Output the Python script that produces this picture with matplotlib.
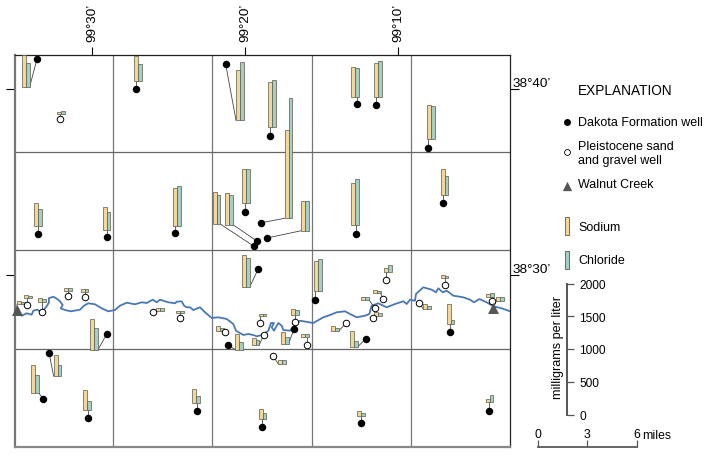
import matplotlib
matplotlib.use('Agg')
import matplotlib.pyplot as plt
from matplotlib.patches import Rectangle

plt.rcParams['font.family'] = ['Liberation Sans', 'DejaVu Sans']

# all map positions are digitised map grid units, ticks give the lat/long
grid_x = [113, 212, 312, 411]
grid_y = [153, 251, 350]
lon_ticks = [92, 245, 398]
lon_labels = ['99°30’', '99°20’', '99°10’']
lat_ticks = [90, 276]
lat_labels = ['38°40’', '38°30’']

# Dakota Formation wells
dak_x = [37, 136, 225.7, 38.3, 107, 175.3, 254, 257.3, 244.7, 270.3, 261.3, 267, 356.7, 376.3, 428, 443,
         355.7, 106.7, 49, 43.3, 87.7, 197, 228.3, 262.3, 361.3, 489, 314.7, 258.3, 365.7, 450, 294]
dak_y = [60, 90, 65.3, 235.3, 237.7, 234.3, 247.3, 242.3, 212.7, 136.7, 223.7, 239, 104.7, 106, 149, 203.7,
         235.3, 335, 353.7, 400, 418.7, 412, 346, 428.3, 424, 412, 301.3, 269.7, 339.7, 333, 330]
dak_bar_x = [22, 134, 236, 34.3, 102.7, 173.3, 212.7, 225.3, 242.3, 268.3, 284.7, 301.3, 351.3, 374.3, 427, 440.7,
             351.3, 90.3, 53.7, 31, 83.3, 192.3, 235.3, 258.7, 357.3, 485.7, 314.3, 242, 350.3, 446.7, 281]
dak_bar_y = [88, 81.7, 121.3, 226.7, 230.7, 226.7, 225, 225.7, 203.7, 127.7, 219.3, 231.7, 98.3, 98.3, 140.3, 196.3,
             226.3, 351, 377.3, 393.7, 410.7, 403.7, 350.7, 420.3, 416.7, 403.3, 292.3, 288.3, 347.7, 324.7, 344.7]
dak_na = [488, 372, 770, 350, 346, 575, 493, 489, 510, 678, 1344, 449, 467, 524, 524, 402,
          650, 469, 321, 427, 296, 205, 240, 153, 72, 46, 467, 489, 235, 296, 174]
dak_cl = [366, 250, 885, 260, 270, 600, 438, 449, 510, 708, 1832, 449, 447, 554, 508, 290,
          707, 340, 168, 266, 128, 98, 113, 96, 41, 116, 493, 443, 82, 52, 98]

# Pleistocene sand and gravel wells
ple_x = [60, 27.3, 42.3, 68, 84.7, 153, 180, 225.3, 386.3, 383.3, 374.7, 373.3, 346, 295.3, 306.7, 260, 263.7,
         273, 419.3, 444.7, 492]
ple_y = [120.3, 306.3, 313, 297, 298, 313.3, 319.3, 333, 281.3, 300, 309, 319.3, 324.3, 323, 346, 324, 336,
         356.7, 303.7, 286.3, 302.3]
ple_bar_x = [57, 24, 38, 64, 80.7, 156, 176.3, 216, 384.3, 373, 361.3, 374, 331.3, 291.3, 301.3, 258.7, 251.7,
             278.3, 423.3, 440.7, 486.3]
ple_bar_y = [115.3, 298.7, 302.7, 291.7, 293, 312, 314.3, 331.7, 272.7, 294.3, 300.7, 316.7, 331.7, 315.7, 337.7,
             316.7, 345.7, 365, 310.3, 279.3, 297.7]
ple_na = [40, 46, 52, 37, 41, 50, 40, 67, 52, 46, 46, 52, 67, 87, 37, 26, 98, 56, 81, 46, 41]
ple_cl = [55, 26, 46, 37, 41, 41, 30, 46, 98, 30, 37, 41, 46, 67, 46, 20, 67, 56, 46, 41, 52]

# Walnut Creek sites
crk_x = [16.7, 493.3]
crk_y = [311, 309]
crk_bar_x = [17, 496.3]
crk_bar_y = [305.3, 301.7]
crk_na = [55, 61]
crk_cl = [40, 61]

river_x = [15, 16.7, 21.7, 26.7, 31.7, 33.3, 37.3, 41.7, 46.7, 49, 48.7, 53.3, 57.3, 60, 62.7, 60.7, 65, 70.7, 80, 84,
           88.3, 95, 101.7, 108.3, 115, 120, 126.7, 135, 141.7, 146.7, 152.7, 156.7, 160, 168.3, 175, 176.7, 181.7,
           184, 186.7, 190, 193.3, 200, 205, 211.7, 218.3, 226.7, 233.3, 236, 243.3, 248.3, 253.3, 256.7, 263.3,
           268.3, 271, 274, 271.7, 274, 278.3, 281.7, 283.3, 290, 295, 300, 313.3, 323.3, 330, 336.7, 345, 350,
           356.7, 365, 369.3, 371.7, 378.3, 386.7, 395, 403.3, 406.7, 410, 415, 416, 423.3, 431.7, 436, 438.3,
           442.7, 446.7, 453.3, 463.3, 470, 474, 479.3, 486.7, 493.3, 501.7, 510]
river_y = [311, 313.3, 316.7, 314.3, 315.7, 311.7, 310.7, 313.3, 307.3, 303.3, 299.3, 297.7, 300, 302.3, 306, 309.3,
           311, 312.3, 310.7, 306.7, 304.3, 305.3, 309.3, 312.3, 311, 306.7, 303.7, 305.3, 303.3, 304, 300.7, 303.3,
           300.7, 303.3, 304.3, 302.7, 302.3, 306.7, 308.3, 308.3, 311, 308.3, 313.3, 319, 318.3, 320, 325, 331.7,
           336, 335, 336, 337.3, 335.7, 331.7, 324, 324, 328.3, 331.7, 324, 326.7, 331, 331.7, 326, 321.7, 324,
           318.3, 316, 313.3, 312.3, 315, 318.3, 316.7, 315, 306.7, 304.3, 308.3, 305, 302.3, 305, 300.7, 301.7,
           295, 288.3, 290.7, 293.3, 289.3, 293.3, 291.7, 296.7, 298.3, 300.7, 303.3, 300, 303.3, 307.3, 309.3, 312.3]

conc_ticks = [0, 500, 1000, 1500, 2000]
mile_ticks = [0, 3, 6]

W, H = 708, 456
NA_COLOR = '#f3d699'
CL_COLOR = '#a3cfc6'
EDGE = '#5a5a48'
BAR_W = 3.8
CONC_SCALE = 131 / 2000  # map units per mg/L, same as the scale bar


def px_axes(fig, left, top, right, bottom):
    return fig.add_axes([left / W, 1 - bottom / H, (right - left) / W, (bottom - top) / H])


def draw_wells(ax, xs, ys, bar_xs, bar_ys, nas, cls):
    for x, y, bx, by, na, cl in zip(xs, ys, bar_xs, bar_ys, nas, cls):
        # leader goes to nearest spot along the bar base
        lx = min(max(x, bx), bx + 2 * BAR_W)
        ax.plot([x, lx], [y, by], color='#444444', lw=0.6, zorder=2)
        ax.add_patch(Rectangle((bx, by), BAR_W, -na * CONC_SCALE, fc=NA_COLOR, ec=EDGE, lw=0.5, zorder=3))
        ax.add_patch(Rectangle((bx + BAR_W, by), BAR_W, -cl * CONC_SCALE, fc=CL_COLOR, ec=EDGE, lw=0.5, zorder=3))


fig = plt.figure(figsize=(W / 100, H / 100), dpi=100)

ax = px_axes(fig, 15, 56, 510, 448)
ax.set_xlim(15, 510)
ax.set_ylim(448, 56)
for g in grid_x:
    ax.axvline(g, color='#777777', lw=0.9, zorder=1)
for g in grid_y:
    ax.axhline(g, color='#666666', lw=0.9, zorder=1)

ax.plot(river_x, river_y, color='#4a78b5', lw=1.3, zorder=2)

draw_wells(ax, dak_x, dak_y, dak_bar_x, dak_bar_y, dak_na, dak_cl)
draw_wells(ax, ple_x, ple_y, ple_bar_x, ple_bar_y, ple_na, ple_cl)
draw_wells(ax, crk_x, crk_y, crk_bar_x, crk_bar_y, crk_na, crk_cl)

ax.scatter(dak_x, dak_y, s=29, c='black', zorder=4, linewidths=0)
ax.scatter(ple_x, ple_y, s=22, c='white', edgecolors='black', linewidths=0.7, zorder=4)
ax.scatter(crk_x, crk_y, s=62, c='#555555', marker='^', zorder=4, linewidths=0, clip_on=False)

ax.set_xticks(lon_ticks, lon_labels, rotation=90, fontsize=9.7)
ax.set_yticks(lat_ticks, lat_labels, fontsize=9.7, va='bottom', ha='left')
ax.tick_params(axis='x', top=True, bottom=False, labeltop=True, labelbottom=False, length=6, width=0.8, pad=4)
ax.tick_params(axis='y', left=True, right=True, labelleft=False, labelright=True, length=6.5, width=0.8, pad=-5)
ax.spines['left'].set(color='#777777', linewidth=1.6)
ax.spines['bottom'].set(color='#888888', linewidth=1.6)
ax.spines['top'].set(color='#222222', linewidth=0.9)
ax.spines['right'].set(color='#222222', linewidth=0.9)

# legend is just text and markers to the right of the map
leg = px_axes(fig, 0, 0, W, H)
leg.set_xlim(0, W)
leg.set_ylim(H, 0)
leg.axis('off')
leg.patch.set_alpha(0)
leg.set_zorder(-1)
leg.text(578, 91, 'EXPLANATION', fontsize=9.8, va='center')
leg.text(578, 123, 'Dakota Formation well', fontsize=9, va='center')
leg.text(577.5, 147, 'Pleistocene sand', fontsize=9, va='center')
leg.text(577.5, 161.5, 'and gravel well', fontsize=9, va='center')
leg.text(577.5, 185, 'Walnut Creek', fontsize=9, va='center')
leg.text(578, 228, 'Sodium', fontsize=9, va='center')
leg.text(578, 261, 'Chloride', fontsize=9, va='center')
leg.scatter([567.3], [123.3], s=25, c='black', linewidths=0)
leg.scatter([567.3], [153], s=18, c='white', edgecolors='black', linewidths=0.6)
leg.scatter([567.3], [186.5], s=45, c='#555555', marker='^', linewidths=0)
leg.add_patch(Rectangle((565.3, 218), 4, 17.7, fc=NA_COLOR, ec=EDGE, lw=0.6))
leg.add_patch(Rectangle((565.3, 252), 4, 18, fc=CL_COLOR, ec=EDGE, lw=0.6))

# concentration scale
sc = px_axes(fig, 566.5, 284.5, 573.5, 415.5)
sc.set_xlim(0, 1)
sc.set_ylim(0, 2000)
sc.set_xticks([])
sc.set_yticks(conc_ticks)
sc.patch.set_alpha(0)
for s in ['top', 'right', 'bottom']:
    sc.spines[s].set_visible(False)
sc.spines['left'].set(color='#555555', linewidth=1.4)
sc.yaxis.tick_right()
sc.tick_params(axis='y', direction='in', length=5, width=0.9, color='#555555', labelsize=8.6, pad=-0.5)
sc.tick_params(axis='y', pad=4)
for lab in sc.get_yticklabels():
    lab.set_ha('left')
sc.yaxis.set_tick_params(which='major', right=False, left=True)
leg.text(558, 348, 'milligrams per liter', fontsize=9.1, rotation=90, va='center', ha='center')

# distance scale
mi = px_axes(fig, 537.7, 441.5, 636.7, 448.3)
mi.set_xlim(0, 6)
mi.set_yticks([])
mi.set_xticks(mile_ticks)
mi.patch.set_alpha(0)
for s in ['top', 'right', 'left']:
    mi.spines[s].set_visible(False)
mi.spines['bottom'].set(color='#666666', linewidth=1.4)
mi.tick_params(axis='x', direction='in', length=5, width=0.9, color='#555555', labelbottom=False, labeltop=True,
               top=False, bottom=True, labelsize=8.8, pad=0)
leg.text(642, 436, 'miles', fontsize=8.8, va='center')

fig.savefig('out.png', dpi=100)
